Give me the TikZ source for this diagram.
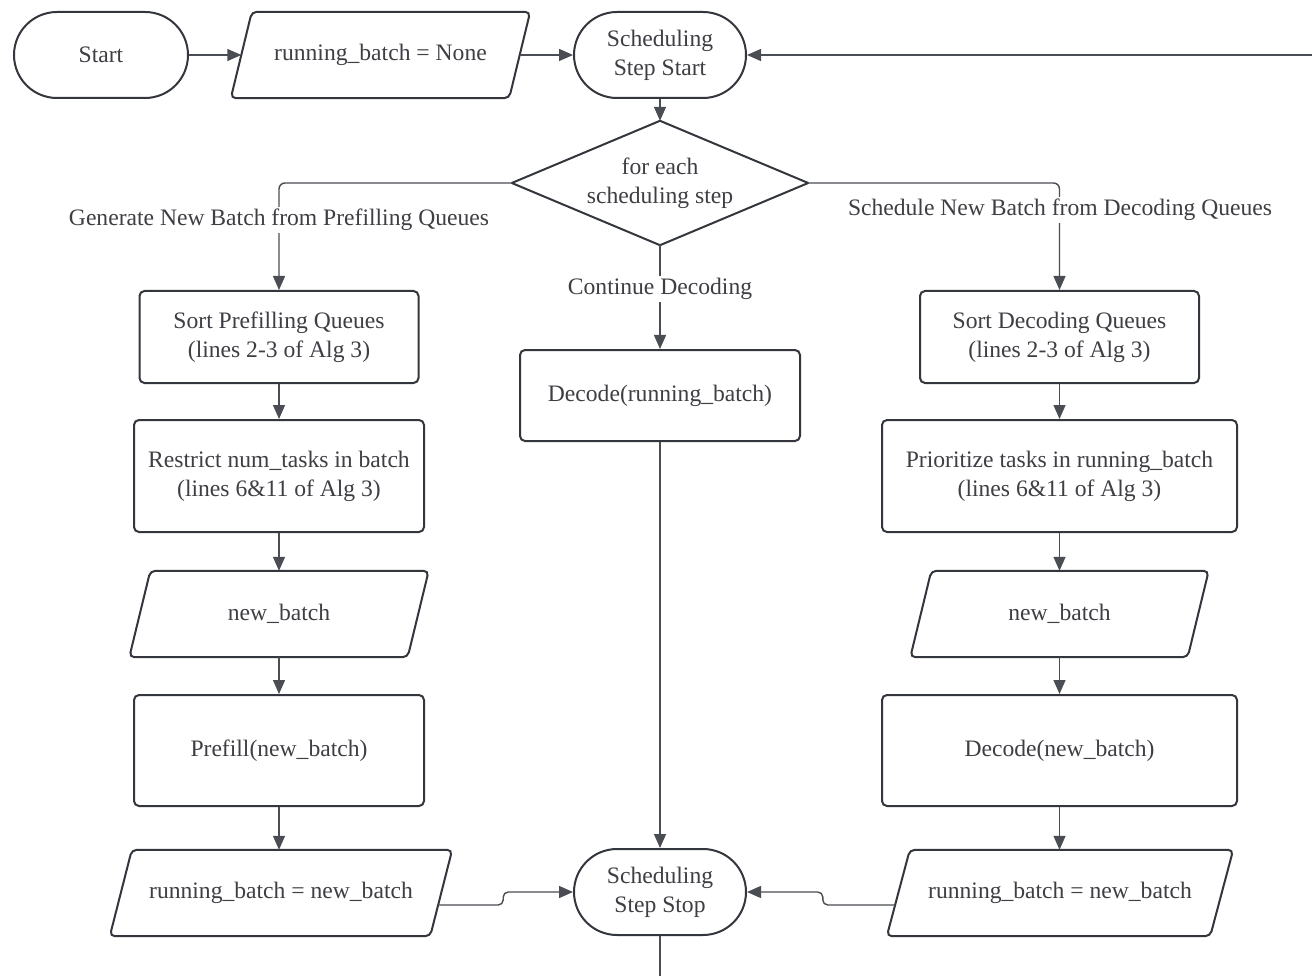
\documentclass[tikz,border=0pt]{standalone}
\usepackage{fontspec}
\setmainfont{Liberation Serif}
\usetikzlibrary{arrows.meta,shapes.misc}
\definecolor{edge}{HTML}{33363D}
\definecolor{conn}{HTML}{4A4D54}
\definecolor{txt}{HTML}{3E3E44}
\tikzset{
  base/.style={text=txt,font=\fontsize{23.6}{29}\selectfont,align=center,inner sep=0pt},
  procbox/.style={base,draw=edge,line width=2pt,rounded corners=5pt,rectangle},
  term/.style={base,draw=edge,line width=2pt,rounded rectangle},
  iobox/.style={base,rectangle},
  lbl/.style={base,fill=white,inner sep=2pt},
  conline/.style={draw=conn,line width=1.4pt},
  arr/.style={conline,-{Triangle[length=14pt,width=12pt]}},
  shapeline/.style={draw=edge,line width=2pt,rounded corners=5pt},
}
\newcommand{\drawpara}[2]{\draw[shapeline] ([xshift=#2]#1.north west) -- (#1.north east) -- ([xshift=-#2]#1.south east) -- (#1.south west) -- cycle;}
\begin{document}
\begin{tikzpicture}[x=1pt,y=-1pt]
\useasboundingbox[fill=white] (0,0) rectangle (1312,976);
% top row
\node[term,minimum width=174,minimum height=86] (start) at (101,55) {Start};
\node[iobox,minimum width=299,minimum height=86] (rbn) at (380.5,55) {running\_batch = None};
\drawpara{rbn}{21}
\node[term,minimum width=172,minimum height=86] (sss) at (660,55) {Scheduling\\Step Start};
% diamond
\node[iobox,minimum width=296,minimum height=124] (dia) at (660,183) {for each\\scheduling step};
\draw[draw=edge,line width=2pt,line join=round] (dia.north) -- (dia.east) -- (dia.south) -- (dia.west) -- cycle;
% left column
\node[procbox,minimum width=279,minimum height=92] (spq) at (279,337) {Sort Prefilling Queues\\(lines 2-3 of Alg 3)};
\node[procbox,minimum width=290,minimum height=112] (rst) at (279,476) {Restrict num\_tasks in batch\\(lines 6\&11 of Alg 3)};
\node[iobox,minimum width=299,minimum height=86] (nbl) at (279,614) {new\_batch};
\drawpara{nbl}{21}
\node[procbox,minimum width=290,minimum height=111] (pre) at (279,750.5) {Prefill(new\_batch)};
\node[iobox,minimum width=342,minimum height=86] (rbl) at (281,893) {running\_batch = new\_batch};
\drawpara{rbl}{22}
% right column
\node[procbox,minimum width=279,minimum height=92] (sdq) at (1059.5,337) {Sort Decoding Queues\\(lines 2-3 of Alg 3)};
\node[procbox,minimum width=355,minimum height=112] (pri) at (1059.5,476) {Prioritize tasks in running\_batch\\(lines 6\&11 of Alg 3)};
\node[iobox,minimum width=298,minimum height=86] (nbr) at (1059.5,614) {new\_batch};
\drawpara{nbr}{21}
\node[procbox,minimum width=355,minimum height=111] (dnb) at (1059.5,750.5) {Decode(new\_batch)};
\node[iobox,minimum width=346,minimum height=86] (rbr) at (1060,893) {running\_batch = new\_batch};
\drawpara{rbr}{23}
% middle
\node[procbox,minimum width=280,minimum height=91] (drb) at (660,395.5) {Decode(running\_batch)};
\node[term,minimum width=172,minimum height=86] (sst) at (660,892) {Scheduling\\Step Stop};
% loop ends off-canvas
\coordinate (topin) at (1312,55);
\coordinate (botout) at (660,976);
% connectors
\draw[arr] (start.east) -- ([xshift=10.5]rbn.west);
\draw[arr] ([xshift=-10.5]rbn.east) -- (sss.west);
\draw[arr] (topin) -- (sss.east);
\draw[arr] (sss.south) -- (dia.north);
\draw[arr,rounded corners=6pt] (dia.west) -| (spq.north);
\draw[arr,rounded corners=6pt] (dia.east) -| (sdq.north);
\draw[arr] (dia.south) -- (drb.north);
\node[lbl] at (279,220) {Generate New Batch from Prefilling Queues};
\node[lbl] at (1060,210) {Schedule New Batch from Decoding Queues};
\node[lbl] at (660,289) {Continue Decoding};
\draw[arr] (spq.south) -- (rst.north);
\draw[arr] (rst.south) -- (nbl.north);
\draw[arr] (nbl.south) -- (pre.north);
\draw[arr] (pre.south) -- (pre.south |- rbl.north);
\draw[arr] (sdq.south) -- (pri.north);
\draw[arr] (pri.south) -- (nbr.north);
\draw[arr] (nbr.south) -- (dnb.north);
\draw[arr] (dnb.south) -- (dnb.south |- rbr.north);
\draw[arr] (drb.south) -- (sst.north);
\draw[arr,rounded corners=5pt] ([xshift=-14,yshift=-12]rbl.east) -- ++(65,0) |- (sst.west);
\draw[arr,rounded corners=5pt] ([xshift=8,yshift=-12]rbr.west) -- ++(-72,0) |- (sst.east);
\draw[conline] (sst.south) -- (botout);
\end{tikzpicture}
\end{document}
